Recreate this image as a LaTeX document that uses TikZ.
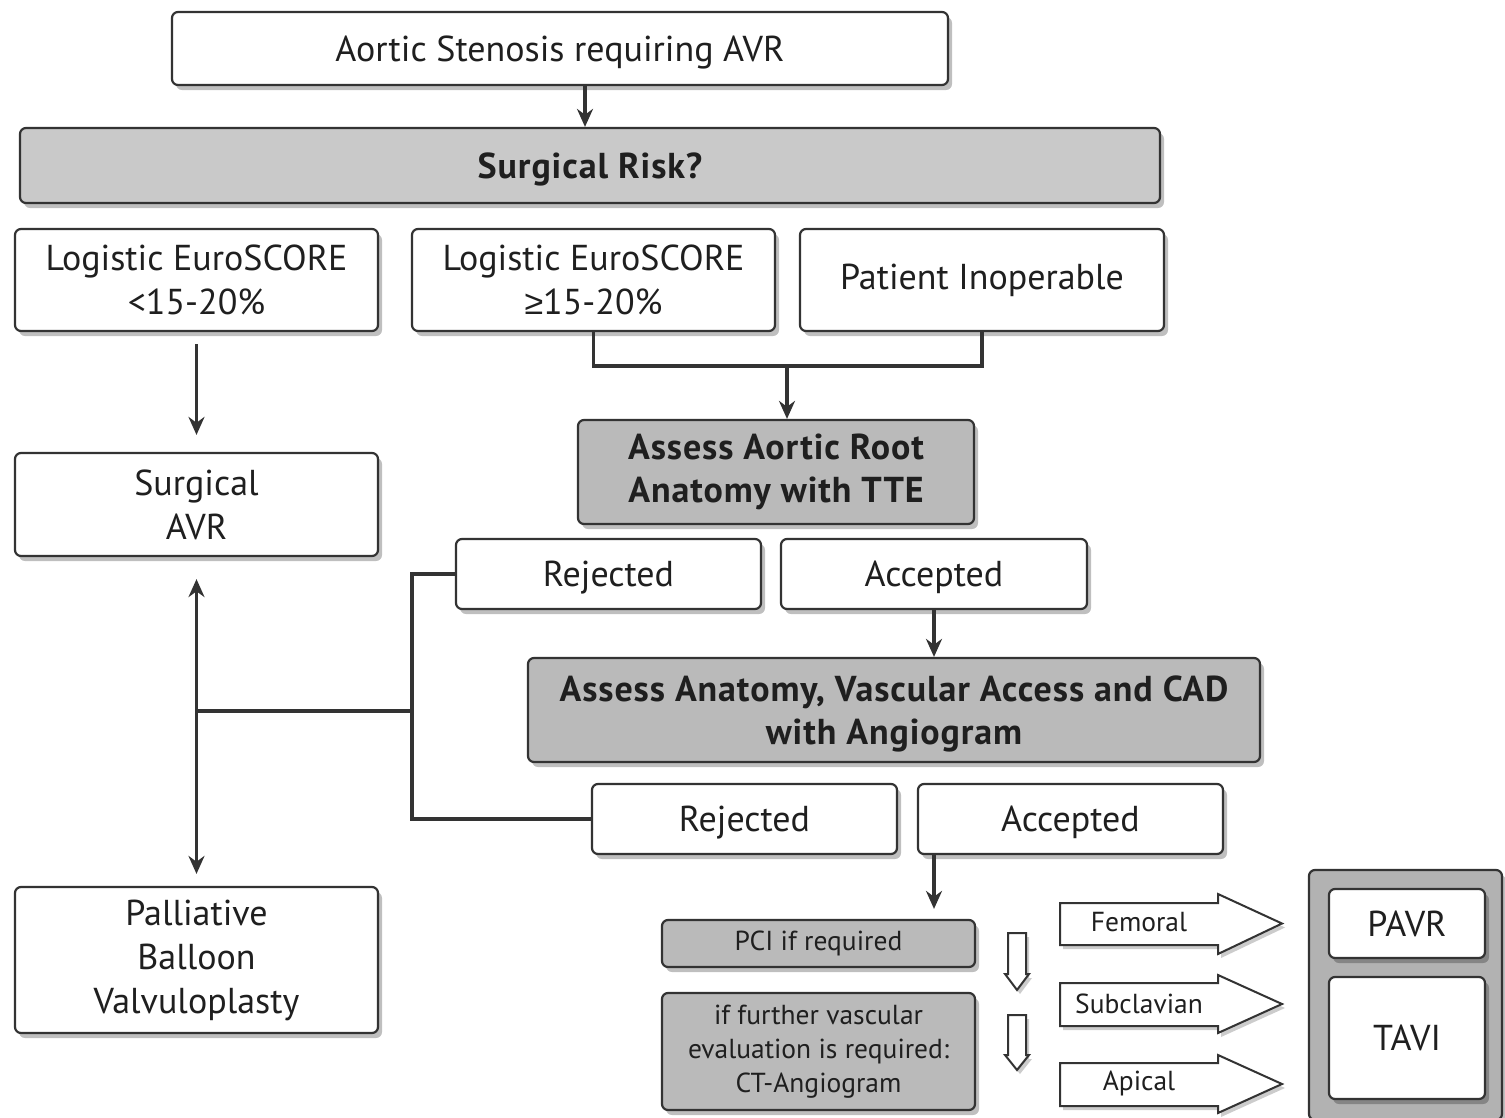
\documentclass[tikz,border=0pt]{standalone}
\usepackage{fontspec}
\setmainfont{PT Sans}[BoldFeatures={LetterSpace=2.5}]
\newfontfamily\symf{Liberation Sans}
\usetikzlibrary{arrows.meta,shadows,calc}
\tikzset{
  x=1pt, y=-1pt,
  box/.style={draw=black!80, line width=2.2pt, rounded corners=6pt, fill=white,
    align=center, inner sep=0pt, text=black!88,
    font=\fontsize{36}{44}\selectfont,
    drop shadow={shadow xshift=4pt, shadow yshift=-5pt, opacity=0.25, fill=black}},
  gbox/.style={box, fill=black!27, font=\fontsize{36}{43}\selectfont\bfseries},
  sbox/.style={box, fill=black!27, font=\fontsize{27.5}{34}\selectfont},
  low/.style={text depth=0pt},
  conn/.style={draw=black!80, line width=3.2pt},
  arr/.style={conn, -{Stealth[length=18pt,width=16pt]}},
  darr/.style={conn, {Stealth[length=18pt,width=16pt]}-{Stealth[length=18pt,width=16pt]}},
  hollow/.style={draw=black!80, line width=2pt, fill=white, line join=miter,
    drop shadow={shadow xshift=3pt, shadow yshift=-4pt, opacity=0.2, fill=black}},
  lbl/.style={font=\fontsize{27.5}{32}\selectfont, text=black!88, inner sep=0pt}
}
\begin{document}
\begin{tikzpicture}
\useasboundingbox[fill=white] (0,0) rectangle (1505,1117);

% boxes
\node[box, low, minimum width=776pt, minimum height=73pt] (top) at (560,48.5) {Aortic Stenosis requiring AVR};
\node[gbox, low, fill=black!21, minimum width=1140pt, minimum height=75pt] (risk) at (590,165.5) {Surgical Risk?};
\node[box, minimum width=363pt, minimum height=102pt] (l1) at (196.5,280) {Logistic EuroSCORE\\<15-20\%};
\node[box, minimum width=363pt, minimum height=102pt] (l2) at (593.5,280) {Logistic EuroSCORE\\{\symf\fontsize{34}{44}\selectfont ≥}15-20\%};
\node[box, minimum width=364pt, minimum height=102pt] (pat) at (982,280) {Patient Inoperable};
\node[box, minimum width=363pt, minimum height=103pt] (savr) at (196.5,504.5) {Surgical\\AVR};
\node[gbox, minimum width=396pt, minimum height=104pt] (root) at (776,472) {Assess Aortic Root\\Anatomy with TTE};
\node[box, low, minimum width=305pt, minimum height=70pt] (rej1) at (608.5,574) {Rejected};
\node[box, low, minimum width=306pt, minimum height=70pt] (acc1) at (934,574) {Accepted};
\node[gbox, low, minimum width=732pt, minimum height=104pt] (anat) at (894,710) {Assess Anatomy, Vascular Access and CAD\\with Angiogram};
\node[box, low, minimum width=305pt, minimum height=70pt] (rej2) at (744.5,819) {Rejected};
\node[box, low, minimum width=305pt, minimum height=70pt] (acc2) at (1070.5,819) {Accepted};
\node[box, minimum width=363pt, minimum height=146pt] (pall) at (196.5,960) {Palliative\\Balloon\\Valvuloplasty};
\node[sbox, minimum width=313pt, minimum height=47pt] (pci) at (818.5,943.5) {PCI if required};
\node[sbox, minimum width=313pt, minimum height=117pt] (ct) at (818.5,1051.5) {if further vascular\\evaluation is required:\\CT-Angiogram};
\node[box, fill=black!30, minimum width=193pt, minimum height=250pt] (outer) at (1405.5,995) {};
\node[box, minimum width=156pt, minimum height=69pt] (pavr) at (1407,923.5) {PAVR};
\node[box, minimum width=156pt, minimum height=122pt] (tavi) at (1407,1038) {TAVI};

% connectors
\coordinate (cx585) at (585,0);
\coordinate (j1) at (787,366);
\coordinate (cx934) at (934,0);
\coordinate (bx) at (412,0);
\coordinate (jm) at (412,711);
\coordinate (jl) at (197,711);
\draw[arr] (top.south -| cx585) -- (risk.north -| cx585);
\draw[conn] (l2.south) -- (l2.south |- j1) -- (pat.south |- j1) -- (pat.south);
\draw[arr] (j1) -- (root.north -| j1);
\draw[arr, shorten <=12pt, shorten >=17pt] (l1.south) -- (savr.north);
\draw[arr] (acc1.south -| cx934) -- (anat.north -| cx934);
\draw[arr, shorten >=10pt] (acc2.south -| cx934) -- (pci.north -| cx934);
\draw[conn] (rej1.west) -- (rej1.west -| bx) -- (rej2.west -| bx) -- (rej2.west);
\draw[conn] (jm) -- (jl);
\draw[darr, shorten <=22pt, shorten >=12pt] (savr.south) -- (pall.north);

% hollow down arrows
\draw[hollow] (1008,933) -- (1026,933) -- (1026,974) -- (1029,974) -- (1017,990) -- (1005,974) -- (1008,974) -- cycle;
\draw[hollow] (1008,1015) -- (1026,1015) -- (1026,1055) -- (1029,1055) -- (1017,1070) -- (1005,1055) -- (1008,1055) -- cycle;

% route arrows
\draw[hollow] (1060,903) -- (1218,903) -- (1218,894) -- (1282,923.5) -- (1218,954) -- (1218,945) -- (1060,945) -- cycle;
\draw[hollow] (1060,983) -- (1218,983) -- (1218,975) -- (1282,1004) -- (1218,1033) -- (1218,1026) -- (1060,1026) -- cycle;
\draw[hollow] (1060,1063) -- (1218,1063) -- (1218,1055) -- (1282,1084) -- (1218,1113) -- (1218,1106) -- (1060,1106) -- cycle;
\node[lbl] (fem) at (1139,922) {Femoral};
\node[lbl] (sub) at (1139,1004) {Subclavian};
\node[lbl] (api) at (1139,1083) {Apical};
\end{tikzpicture}
\end{document}
